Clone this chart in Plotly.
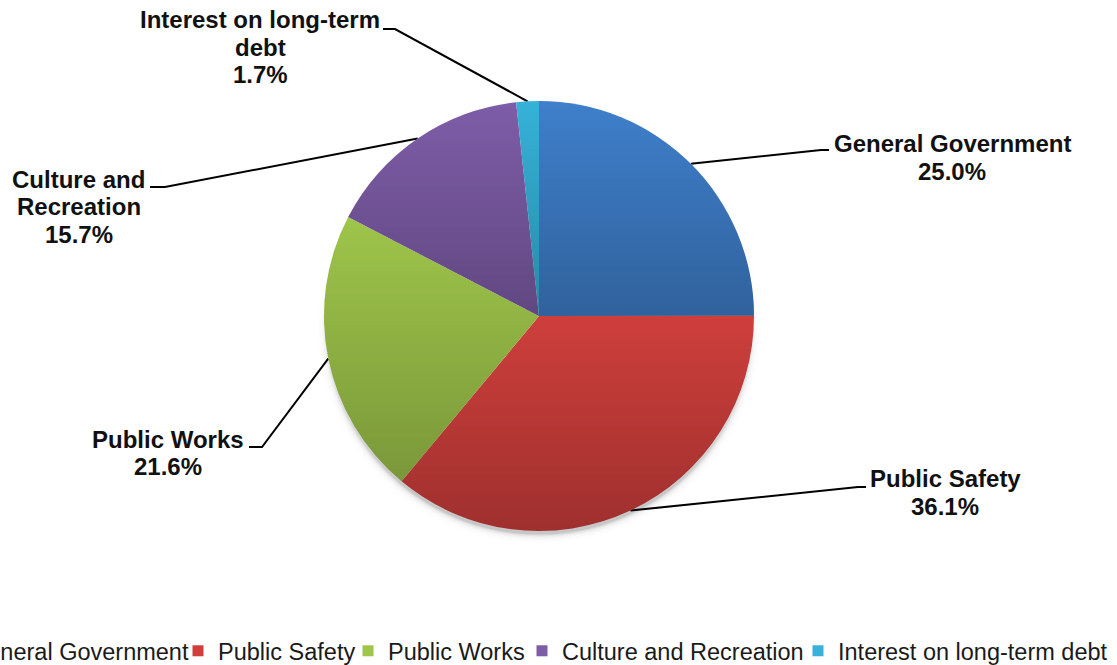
import base64
import math
import struct
import zlib

import numpy as np
import plotly.graph_objects as go

# Expenditure shares by function
categories = ["General Government", "Public Safety", "Public Works",
              "Culture and Recreation", "Interest on long-term debt"]
shares = [25.0, 36.1, 21.6, 15.7, 1.7]
label_lines = [["General Government"], ["Public Safety"], ["Public Works"],
               ["Culture and", "Recreation"], ["Interest on long-term", "debt"]]
colors = ["#3F7FCB", "#CE3F3C", "#9FC54B", "#7E5DA8", "#36B2D8"]

# Canvas and pie geometry (pixels)
W, H = 1117, 665
CX, CY, R = 539, 316, 215
SHADE = 0.23          # darkening at the bottom of each slice's gradient

# Callout layout per slice: elbow point, tail end, text-block centre
callouts = [
    dict(elbow=(821, 150), tail=(829, 150), text=(952, 157.5)),
    dict(elbow=(858, 487), tail=(866, 487), text=(945, 492.5)),
    dict(elbow=(262, 447), tail=(249, 447), text=(168, 453)),
    dict(elbow=(165, 187), tail=(150, 187), text=(78.5, 206.5)),
    dict(elbow=(395, 29), tail=(383, 29), text=(260, 47)),
]
LINE_STEP = 27.5
legend_text_left = [-31, 218, 388, 562, 838]
legend_text_mid_y = 651

FONT = "Arial, 'Liberation Sans', sans-serif"


def png_data_uri(rgba):
    h, w, _ = rgba.shape
    raw = b"".join(b"\x00" + rgba[r].tobytes() for r in range(h))

    def chunk(tag, data):
        body = tag + data
        return (struct.pack(">I", len(data)) + body
                + struct.pack(">I", zlib.crc32(body) & 0xFFFFFFFF))

    png = (b"\x89PNG\r\n\x1a\n"
           + chunk(b"IHDR", struct.pack(">IIBBBBB", w, h, 8, 6, 0, 0, 0))
           + chunk(b"IDAT", zlib.compress(raw, 9))
           + chunk(b"IEND", b""))
    return "data:image/png;base64," + base64.b64encode(png).decode()


total = sum(shares)
bounds = np.cumsum([0.0] + shares) / total * 2 * np.pi

# Vertical extent of each slice, used for its top-to-bottom shading
slice_ys = []
for a0, a1 in zip(bounds[:-1], bounds[1:]):
    ys = [CY, CY - R * math.cos(a0), CY - R * math.cos(a1)]
    for cardinal in (0.0, math.pi, 2 * math.pi):
        if a0 <= cardinal <= a1:
            ys.append(CY - R * math.cos(cardinal))
    slice_ys.append((min(ys), max(ys)))

# Shading overlay: per-slice vertical gradient plus a soft drop shadow
PAD = 12
size = 2 * (R + PAD)
X0, Y0 = CX - R - PAD, CY - R - PAD
px = X0 + np.arange(size) + 0.5
py = Y0 + np.arange(size) + 0.5
gx, gy = np.meshgrid(px, py)
dx, dy = gx - CX, gy - CY
dist = np.hypot(dx, dy)
theta = np.mod(np.arctan2(dx, -dy), 2 * np.pi)
idx = np.clip(np.searchsorted(bounds, theta, side="right") - 1, 0, len(shares) - 1)
ymin = np.array([s[0] for s in slice_ys])[idx]
ymax = np.array([s[1] for s in slice_ys])[idx]
t = np.clip((gy - ymin) / np.maximum(ymax - ymin, 1), 0, 1)
cover = np.clip(R - dist + 0.5, 0, 1)
alpha = SHADE * t * cover
sd = np.hypot(dx, dy - 3) - R
shadow = 0.22 * np.exp(-np.maximum(sd, 0) / 2.5) * np.clip(dy / R + 0.2, 0, 1)
alpha = alpha + (1 - cover) * shadow
rgba = np.zeros((size, size, 4), dtype=np.uint8)
rgba[..., 3] = np.clip(alpha * 255, 0, 255).astype(np.uint8)

fig = go.Figure()

fig.add_trace(go.Pie(
    labels=categories, values=shares, sort=False, direction="clockwise",
    rotation=0, textinfo="none", hoverinfo="label+percent",
    marker=dict(colors=colors, line=dict(width=0)),
    showlegend=False,
    domain=dict(x=[(CX - R) / W, (CX + R) / W],
                y=[(H - (CY + R)) / H, (H - (CY - R)) / H]),
))

# Leader lines from each slice's mid-arc point to its label
annotations = []
for i, v in enumerate(shares):
    mid = (bounds[i] + bounds[i + 1]) / 2
    ex, ey = CX + R * math.sin(mid), CY - R * math.cos(mid)
    c = callouts[i]
    fig.add_trace(go.Scatter(
        x=[ex, c["elbow"][0], c["tail"][0]],
        y=[ey, c["elbow"][1], c["tail"][1]],
        mode="lines", line=dict(color="black", width=2),
        hoverinfo="skip", showlegend=False,
    ))
    lines = label_lines[i] + [f"{v:.1f}%"]
    n = len(lines)
    for k, txt in enumerate(lines):
        annotations.append(dict(
            x=c["text"][0], y=c["text"][1] + (k - (n - 1) / 2) * LINE_STEP,
            xref="x", yref="y", text=f"<b>{txt}</b>", showarrow=False,
            xanchor="center", yanchor="middle",
            font=dict(family=FONT, size=24, color="#111111"),
        ))

# Legend: one entry per category, laid out in a single row along the bottom
legend_layout = {}
for i, (name, col) in enumerate(zip(categories, colors)):
    key = "legend" if i == 0 else f"legend{i + 1}"
    fig.add_trace(go.Scatter(
        x=[None], y=[None], mode="markers", name=name,
        marker=dict(symbol="square", size=11, color=col),
        legend=key, showlegend=True,
    ))
    legend_layout[key] = dict(
        x=(legend_text_left[i] - 40) / W, xanchor="left",
        y=(H - legend_text_mid_y) / H, yanchor="middle",
        orientation="h", bgcolor="rgba(0,0,0,0)", borderwidth=0,
        font=dict(family=FONT, size=23.5, color="#1a1a1a"),
    )

fig.update_layout(
    width=W, height=H, margin=dict(l=0, r=0, t=0, b=0, autoexpand=False),
    paper_bgcolor="white", plot_bgcolor="white",
    xaxis=dict(range=[0, W], visible=False, domain=[0, 1], fixedrange=True),
    yaxis=dict(range=[H, 0], visible=False, domain=[0, 1], fixedrange=True),
    annotations=annotations,
    images=[dict(
        source=png_data_uri(rgba), xref="x", yref="y",
        x=X0, y=Y0, sizex=size, sizey=size,
        xanchor="left", yanchor="top", sizing="stretch", layer="above",
    )],
    **legend_layout,
)

fig.write_html("out.html")
